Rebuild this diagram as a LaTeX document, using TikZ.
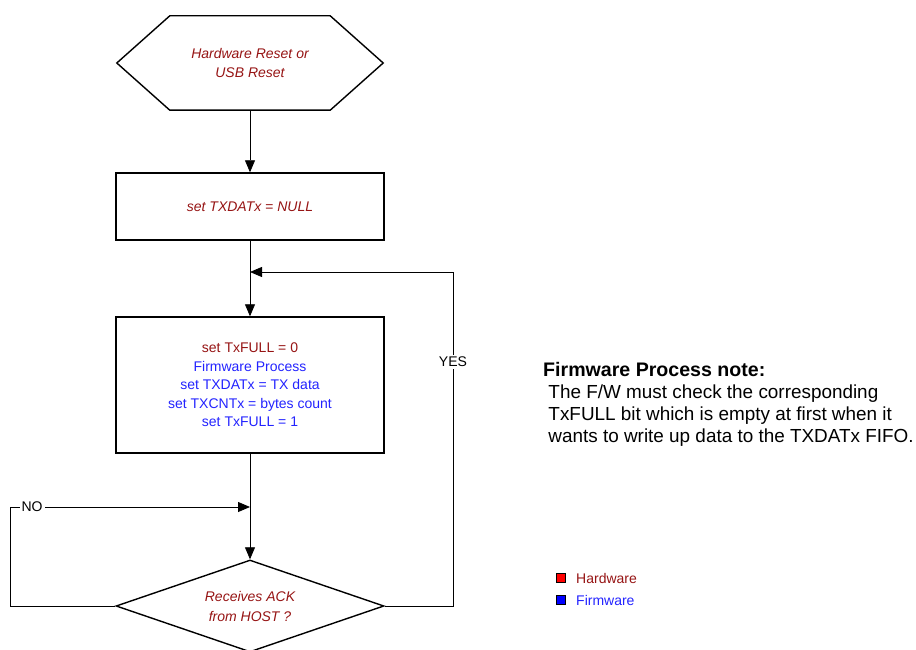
\documentclass[tikz,border=0pt]{standalone}
\usepackage{fontspec}
\setmainfont{Liberation Sans}
\usetikzlibrary{arrows.meta,shapes.geometric}
\definecolor{hwred}{RGB}{150,20,20}
\definecolor{fwblue}{RGB}{35,35,255}
\begin{document}
\begin{tikzpicture}[x=1pt,y=-1pt]
\tikzstyle{every node}+=[inner sep=0pt]
\tikzstyle{box}=[draw,line width=1.4pt,minimum width=268pt,align=center,font=\fontsize{14}{18.5}\selectfont]
\tikzstyle{flow}=[line width=0.8pt,-{Triangle[length=12pt,width=10pt]}]
\tikzstyle{tag}=[fill=white,inner sep=2pt,font=\fontsize{14}{16}\selectfont]
\tikzstyle{key}=[draw,line width=1.2pt,minimum size=9pt]
\useasboundingbox (0,0) rectangle (916,650);
% start
\node (reset) [minimum width=266pt,minimum height=94pt,align=center,text=hwred,
  font=\fontsize{14}{19}\selectfont\itshape] at (250,63) {Hardware Reset or\\USB Reset};
\draw [line width=1.4pt] ([xshift=53pt]reset.north west) -- ([xshift=-53pt]reset.north east)
  -- (reset.east) -- ([xshift=-53pt]reset.south east) -- ([xshift=53pt]reset.south west)
  -- (reset.west) -- cycle;
\node (nullbox) [box,minimum height=67pt,text=hwred,font=\fontsize{14}{18.5}\selectfont\itshape]
  at (250,206.5) {set TXDATx = NULL};
\node (procbox) [box,minimum height=136pt] at (250,385)
  {\textcolor{hwred}{set TxFULL = 0}\\\textcolor{fwblue}{Firmware Process}\\
   \textcolor{fwblue}{set TXDATx = TX data}\\\textcolor{fwblue}{set TXCNTx = bytes count}\\
   \textcolor{fwblue}{set TxFULL = 1}};
\node (ack) [diamond,draw,line width=1.4pt,minimum width=268pt,minimum height=92pt,
  shape aspect=2.9,align=center,text=hwred,font=\fontsize{14}{20}\selectfont\itshape]
  at (250,606) {Receives ACK\\from HOST ?};
\coordinate (join1) at (250,272);
\coordinate (join2) at (250,507);
% connectors
\draw [flow] (reset) -- (nullbox);
\draw [flow] (nullbox) -- (procbox);
\draw [flow] (procbox) -- (ack);
\draw [flow] (ack.east) -- (453,606) |- (join1);
\draw [flow] (ack.west) -- (10,606) |- (join2);
\node (yes) [tag] at (453,362) {YES};
\node (no) [tag] at (32,507) {NO};
% note
\node (note) [anchor=north west,align=left,font=\fontsize{18.9}{22}\selectfont] at (543,362)
  {{\fontsize{19.6}{22}\selectfont\bfseries Firmware Process note:}\\
   \ The F/W must check the corresponding\\
   \ TxFULL bit which is empty at first when it\\
   \ wants to write up data to the TXDATx FIFO.};
% legend
\node (hwkey) [key,fill=red] at (561,578) {};
\node (fwkey) [key,fill=blue] at (561,600) {};
\node (hwtext) [anchor=west,text=hwred,font=\fontsize{14}{16}\selectfont] at (576,578) {Hardware};
\node (fwtext) [anchor=west,text=fwblue,font=\fontsize{14}{16}\selectfont] at (576,600) {Firmware};
\end{tikzpicture}
\end{document}
